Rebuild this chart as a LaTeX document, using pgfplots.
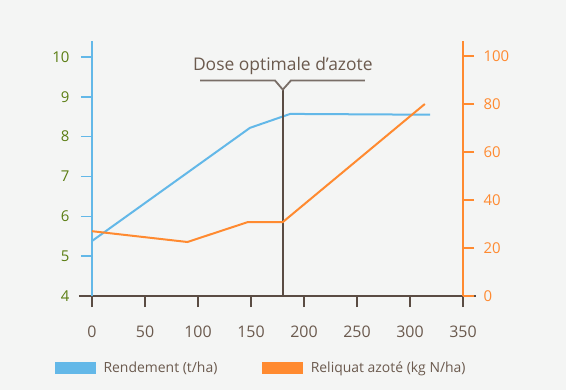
\documentclass[border=0pt]{standalone}
\usepackage{pgfplots}
\pgfplotsset{compat=1.18}
\usepackage{fontspec}
\setmainfont{Open Sans}
\definecolor{bg}{HTML}{F4F5F4}
\definecolor{cblue}{HTML}{63B8E8}
\definecolor{corange}{HTML}{FF8A30}
\definecolor{cbrown}{HTML}{5A4C43}
\definecolor{ctext}{HTML}{6B5A4E}
\definecolor{cgreen}{HTML}{5A7D12}
\begin{document}
\begin{tikzpicture}
\fill[bg] (0,0) rectangle (566bp,390bp);
\begin{axis}[
  scale only axis, width=371bp, height=255bp,
  at={(92bp,94bp)}, anchor=south west,
  xmin=0, xmax=350, ymin=4, ymax=10.4,
  axis x line=bottom, axis y line=left,
  x axis line style={draw=cbrown, line width=1.6bp, -, shorten <=-13bp, shorten >=-13bp},
  y axis line style={draw=cblue, line width=1.6bp, -},
  xtick={0,50,...,350}, ytick={4,5,...,10},
  tick align=outside, major tick length=11bp,
  x tick style={draw=cbrown, line width=1.6bp},
  y tick style={draw=cblue, line width=1.6bp},
  xticklabel style={font=\fontsize{16}{19}\selectfont, text=ctext, yshift=-15bp},
  yticklabel style={font=\fontsize{15}{18}\selectfont, text=cgreen, xshift=-8bp},
  /pgf/number format/assume math mode=true,
  clip=false,
  legend columns=2,
  legend style={draw=none, fill=none, at={(axis description cs:-0.108,-0.282)}, anchor=west,
    font=\fontsize{14}{17}\selectfont, text=ctext,
    /tikz/every odd column/.append style={column sep=6bp},
    /tikz/every even column/.append style={column sep=43bp}},
  legend image code/.code={\fill[#1] (0bp,-5.5bp) rectangle (40bp,5.5bp);},
]
\addlegendimage{cblue, fill=cblue}
\addlegendentry{Rendement (t/ha)}
\addlegendimage{corange, fill=corange}
\addlegendentry{Reliquat azoté (kg N/ha)}
\addplot[cblue, line width=2bp] coordinates {(0,5.38) (149,8.22) (187,8.57) (319,8.55)};
\addplot[cbrown, line width=1.8bp] coordinates {(180,4) (180,9.18)};
\addplot[cbrown!80!bg, line width=1.8bp] coordinates {(102,9.41) (172.6,9.41) (180,9.18) (187.7,9.41) (257.5,9.41)};
\node[text=ctext, font=\fontsize{17.5}{21}\selectfont, anchor=base] at (axis cs:180,9.66) {Dose optimale d’azote};
\end{axis}
\begin{axis}[
  scale only axis, width=371bp, height=255bp,
  at={(92bp,94bp)}, anchor=south west,
  xmin=0, xmax=350, ymin=0, ymax=106.25,
  axis x line=none, axis y line=right,
  y axis line style={draw=corange, line width=1.6bp, -},
  ytick={0,20,...,100},
  tick align=outside, major tick length=11bp,
  y tick style={draw=corange, line width=1.6bp},
  yticklabel style={font=\fontsize{15}{18}\selectfont, text=corange, xshift=6bp},
  /pgf/number format/assume math mode=true,
  clip=false,
]
\addplot[corange, line width=2bp] coordinates {(0,27) (90,22.5) (147,30.8) (180,30.8) (314,80)};
\end{axis}
\pgfresetboundingbox
\path[use as bounding box] (0,0) rectangle (566bp,390bp);
\end{tikzpicture}
\end{document}
